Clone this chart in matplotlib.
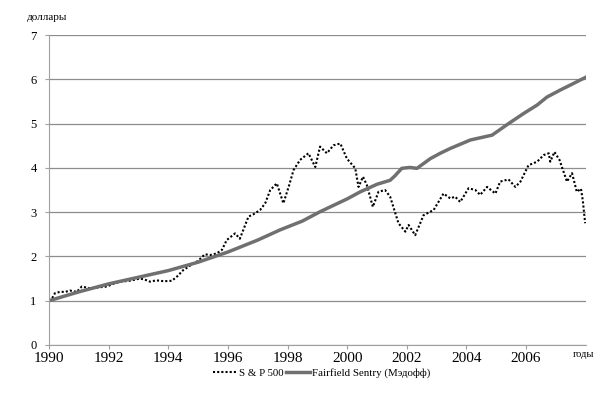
import matplotlib
matplotlib.use("Agg")
import matplotlib.pyplot as plt

# S&P 500 (value of $1 invested in 1990)
sp_years = [1990.0, 1990.1, 1990.2, 1990.37, 1990.55, 1990.7, 1990.93, 1991.1, 1991.38, 1991.65,
            1991.94, 1992.15, 1992.38, 1992.7, 1993.05, 1993.2, 1993.39, 1993.6, 1993.85, 1994.12,
            1994.3, 1994.5, 1994.84, 1995.0, 1995.23, 1995.4, 1995.63, 1995.8, 1995.96, 1996.24,
            1996.4, 1996.69, 1996.85, 1997.08, 1997.25, 1997.42, 1997.64, 1997.86, 1998.05, 1998.2,
            1998.42, 1998.7, 1998.93, 1999.09, 1999.32, 1999.54, 1999.77, 1999.99, 2000.27, 2000.38,
            2000.53, 2000.66, 2000.86, 2001.05, 2001.27, 2001.44, 2001.72, 2001.95, 2002.06, 2002.28,
            2002.56, 2002.9, 2003.23, 2003.46, 2003.62, 2003.79, 2004.07, 2004.3, 2004.46, 2004.69,
            2004.97, 2005.13, 2005.41, 2005.64, 2005.81, 2006.08, 2006.37, 2006.59, 2006.76, 2006.81,
            2006.95, 2007.12, 2007.37, 2007.54, 2007.7, 2007.84, 2007.9, 2007.98]
sp_vals = [1.0, 1.05, 1.17, 1.2, 1.2, 1.23, 1.2, 1.32, 1.28, 1.3,
           1.32, 1.38, 1.43, 1.45, 1.5, 1.48, 1.43, 1.46, 1.44, 1.45,
           1.55, 1.69, 1.84, 1.9, 2.05, 2.03, 2.07, 2.15, 2.37, 2.52,
           2.4, 2.9, 2.95, 3.05, 3.2, 3.5, 3.65, 3.2, 3.6, 3.95,
           4.18, 4.33, 4.02, 4.48, 4.33, 4.51, 4.55, 4.21, 3.99, 3.57,
           3.8, 3.61, 3.12, 3.46, 3.5, 3.35, 2.75, 2.56, 2.71, 2.48,
           2.93, 3.05, 3.42, 3.31, 3.35, 3.23, 3.54, 3.5, 3.39, 3.57,
           3.42, 3.69, 3.74, 3.57, 3.69, 4.06, 4.14, 4.29, 4.33, 4.14,
           4.36, 4.18, 3.69, 3.88, 3.46, 3.53, 3.27, 2.75]

# Fairfield Sentry
ff_years = [1990.0, 1991.0, 1992.0, 1993.0, 1994.0, 1995.0, 1996.0, 1997.0, 1997.75, 1998.5,
            1999.09, 2000.0, 2000.44, 2001.0, 2001.44, 2001.6, 2001.83, 2002.1, 2002.34, 2002.79,
            2003.12, 2003.46, 2004.13, 2004.86, 2005.41, 2005.92, 2006.37, 2006.7, 2007.15, 2007.48,
            2007.98]
ff_vals = [1.0, 1.2, 1.38, 1.53, 1.68, 1.87, 2.1, 2.37, 2.6, 2.8,
           3.01, 3.3, 3.46, 3.63, 3.72, 3.82, 3.99, 4.01, 3.99, 4.21,
           4.33, 4.44, 4.63, 4.74, 5.0, 5.23, 5.42, 5.6, 5.76, 5.87,
           6.04]

x_ticks = [1990, 1992, 1994, 1996, 1998, 2000, 2002, 2004, 2006]
y_ticks = [0, 1, 2, 3, 4, 5, 6, 7]

plt.rcParams['font.family'] = ['Liberation Serif', 'DejaVu Serif']

fig = plt.figure(figsize=(6.02, 3.94), dpi=100)
ax = fig.add_axes([0.0814, 0.1244, 0.8916, 0.7866])

ax.plot(sp_years, sp_vals, color='black', lw=1.5, linestyle=(0, (1, 1)), label='S & P 500')
ax.plot(ff_years, ff_vals, color='#707070', lw=2.5, solid_joinstyle='round', label='Fairfield Sentry (Мэдофф)')

ax.set_xlim(1990, 2008)
ax.set_ylim(0, 7)
ax.set_xticks(x_ticks)
ax.set_yticks(y_ticks)
ax.grid(axis='y', color='#8c8c8c', lw=0.9)
ax.set_axisbelow(True)

for s in ['top', 'right']:
    ax.spines[s].set_visible(False)
ax.spines['left'].set_color('#a0a0a0')
ax.spines['bottom'].set_color('#a0a0a0')
ax.tick_params(axis='x', labelsize=11, length=3, color='#a0a0a0', pad=2)
ax.tick_params(axis='y', labelsize=9, length=3, color='#a0a0a0', pad=6)

fig.text(0.045, 0.955, 'доллары', fontsize=8, va='center')
fig.text(0.952, 0.10, 'годы', fontsize=7.5, va='center')

ax.legend(loc='center', bbox_to_anchor=(0.508, -0.09),
          ncol=2, frameon=False, fontsize=7.8, handlelength=2.2, columnspacing=0.3,
          handletextpad=0.2)

fig.savefig('out.png', dpi=100)
